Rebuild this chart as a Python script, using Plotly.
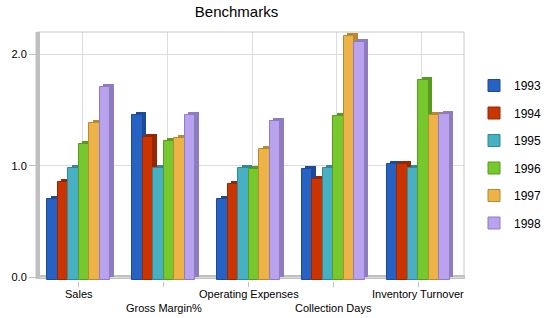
import plotly.graph_objects as go

categories = ["Sales", "Gross Margin%", "Operating Expenses", "Collection Days", "Inventory Turnover"]
years = ["1993", "1994", "1995", "1996", "1997", "1998"]
v1993 = [0.72, 1.48, 0.72, 0.99, 1.04]
v1994 = [0.88, 1.28, 0.86, 0.90, 1.04]
v1995 = [1.00, 1.00, 1.00, 1.00, 1.00]
v1996 = [1.22, 1.24, 0.99, 1.47, 1.79]
v1997 = [1.41, 1.27, 1.17, 2.19, 1.48]
v1998 = [1.73, 1.48, 1.42, 2.13, 1.49]
y_ticks = [0, 1, 2]

series = [v1993, v1994, v1995, v1996, v1997, v1998]
face = ["#2662c3", "#c93400", "#47b0c3", "#77c82d", "#edb347", "#b9a2ee"]
dark = ["#1d4a99", "#962700", "#338897", "#5a9a22", "#b68a35", "#8f7cbf"]

# geometry (pixels -> units)
W, H = 550, 318
L, R, T, B = 40, 464, 32, 281
cat_px = (R - L) / len(categories)
y_px = 111.3
zero_px = 277
depth_x = 3.5 / cat_px
depth_y = 3.0 / y_px
front_drop = 2.5 / y_px
bw = 10.5 / cat_px

xs = list(range(len(categories)))
front_x = [x - depth_x for x in xs]

fig = go.Figure()
n = len(series)
# shadows (3D depth) first
for j, (name, vals) in enumerate(zip(years, series)):
    off = -depth_x - n / 2 * bw + j * bw
    fig.add_trace(go.Bar(
        x=xs, y=vals, base=-front_drop + depth_y, offset=off + depth_x, width=bw,
        marker=dict(color=dark[j], line=dict(width=0)),
        showlegend=False, legendgroup=name, hoverinfo="skip"))
for j, (name, vals) in enumerate(zip(years, series)):
    off = -depth_x - n / 2 * bw + j * bw
    fig.add_trace(go.Bar(
        x=xs, y=vals, base=-front_drop, offset=off, width=bw, name=name,
        marker=dict(color=face[j], line=dict(width=1, color=dark[j])),
        legendgroup=name))

ybot = -(B - zero_px) / y_px
ytop = (zero_px - T) / y_px

shapes = []
gray = "#c0c0c0"
# floor
shapes.append(dict(type="rect", xref="paper", yref="y", x0=(36 - L) / (R - L), x1=(465 - L) / (R - L),
                   y0=-2 / y_px, y1=2 / y_px, fillcolor=gray, line=dict(width=0), layer="below"))
# left wall
shapes.append(dict(type="rect", xref="paper", yref="paper", x0=(35.5 - L) / (R - L), x1=0,
                   y0=(B - 279) / (B - T), y1=1, fillcolor=gray, line=dict(width=0), layer="above"))
# frame top and right
shapes.append(dict(type="line", xref="paper", yref="paper", x0=(37 - L) / (R - L), x1=1, y0=1, y1=1,
                   line=dict(color="#c8c8c8", width=1)))
shapes.append(dict(type="line", xref="paper", yref="paper", x0=1, x1=1, y0=(B - 279) / (B - T), y1=1,
                   line=dict(color="#c8c8c8", width=1)))

annotations = []
for i, c in enumerate(categories):
    annotations.append(dict(text=c, x=front_x[i], xref="x", y=0, yref="paper", yanchor="top",
                            xanchor="center", showarrow=False,
                            yshift=-5 if i % 2 == 0 else -19,
                            font=dict(family="Liberation Sans, Arial", size=11, color="#000")))

fig.update_layout(
    width=W, height=H, autosize=False,
    margin=dict(l=L, r=W - R, t=T, b=H - B, pad=0, autoexpand=False),
    paper_bgcolor="white", plot_bgcolor="white",
    barmode="overlay", bargap=0,
    title=dict(text="Benchmarks", x=236.5 / W, xanchor="center", y=1 - 12 / H, yanchor="middle",
               font=dict(family="Liberation Sans, Arial", size=15, color="#000")),
    font=dict(family="Liberation Sans, Arial", size=11, color="#000"),
    xaxis=dict(range=[-0.5, len(categories) - 0.5], tickvals=front_x, ticktext=["" for _ in categories],
               ticks="outside", ticklen=5, tickcolor=gray, showgrid=False, zeroline=False,
               showline=False, fixedrange=True,
               minor=dict(tick0=0, dtick=1, showgrid=True, gridcolor="#dcdcdc", ticks="")),
    yaxis=dict(range=[ybot, ytop], tickvals=y_ticks, tickformat=".1f", ticks="outside", ticklen=10,
               tickcolor=gray, showgrid=True, gridcolor="#dcdcdc", zeroline=False, showline=False,
               tickfont=dict(size=11), fixedrange=True),
    legend=dict(x=(474 - L) / (R - L), xanchor="left", y=(B - 71) / (B - T), yanchor="top",
                font=dict(family="Liberation Sans, Arial", size=12, color="#000"),
                tracegroupgap=8.5, itemwidth=30, bgcolor="rgba(0,0,0,0)"),
    shapes=shapes, annotations=annotations,
)

fig.write_html("out.html")
